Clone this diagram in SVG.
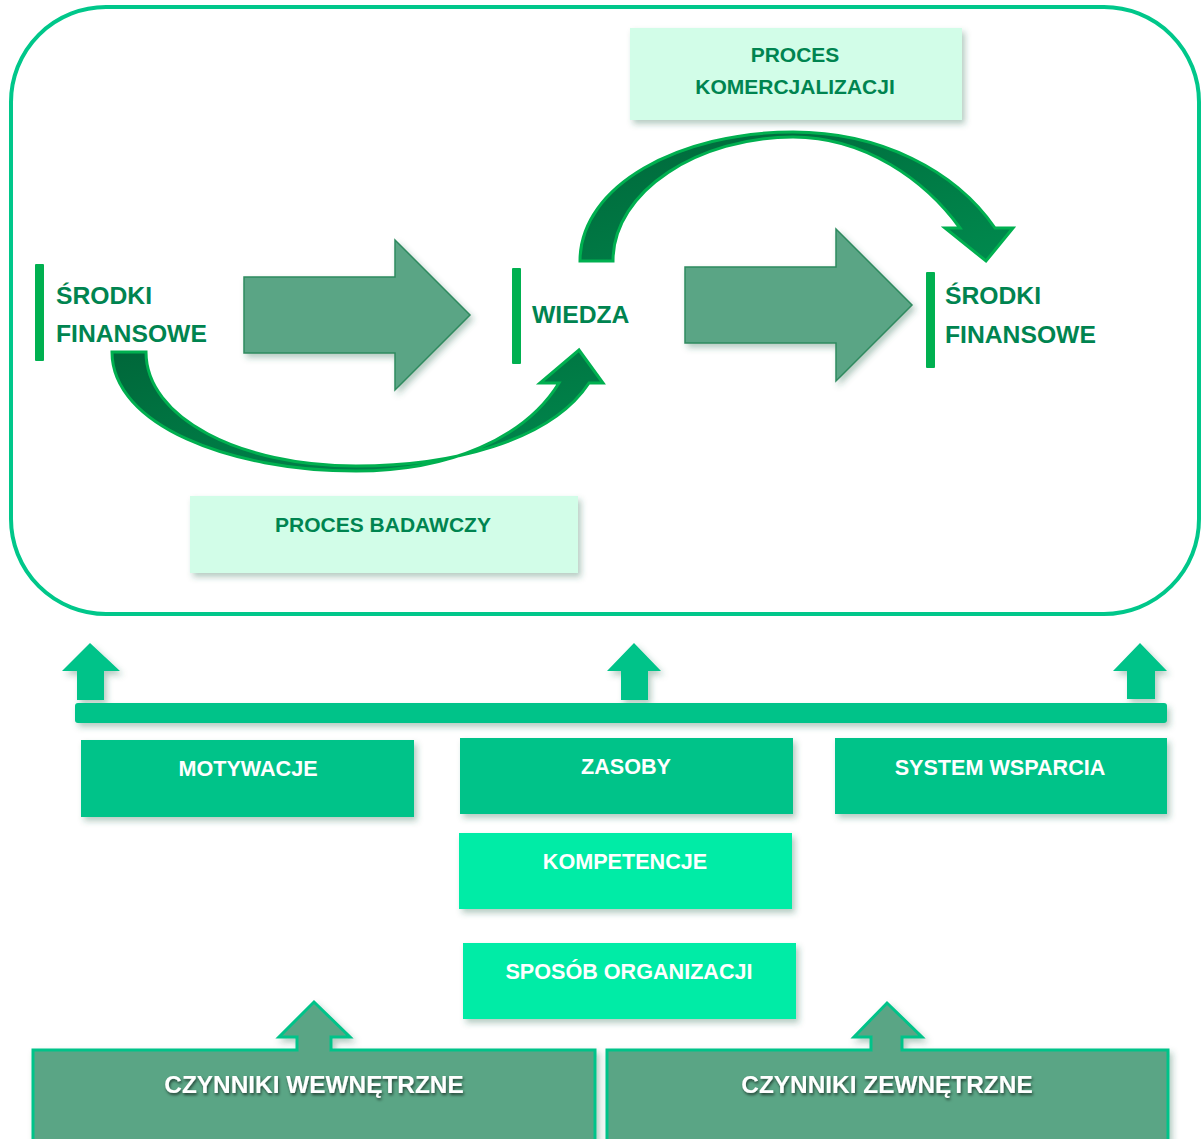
<svg xmlns="http://www.w3.org/2000/svg" width="1201" height="1139" viewBox="0 0 1201 1139">
<defs>
<style>
.lbl{font-family:"Liberation Sans",Arial,sans-serif;font-weight:bold;}
.dk{fill:#008450;font-size:24.7px;}
.pr{fill:#008450;font-size:21px;text-anchor:middle;}
.wt{fill:#ffffff;font-size:21.6px;text-anchor:middle;}
.wt2{fill:#ffffff;font-size:24.4px;text-anchor:middle;}
.bar{fill:#00b050;}
.light{fill:#d2fde8;}
.teal{fill:#00c389;}
.mint{fill:#00eca6;}
.big{fill:#5aa585;stroke:#2f8a5f;stroke-width:1.5;}
.curve{fill:url(#cg);stroke:#00b050;stroke-width:3;stroke-linejoin:miter;}
.base{fill:#5aa585;stroke:#00c389;stroke-width:3;}
</style>
<linearGradient id="cg" x1="0" y1="0" x2="1" y2="1">
<stop offset="0" stop-color="#00673a"/>
<stop offset="1" stop-color="#008a4e"/>
</linearGradient>
<filter id="sh" x="-10%" y="-10%" width="125%" height="130%">
<feDropShadow dx="3" dy="4" stdDeviation="3" flood-color="#2d6b4f" flood-opacity="0.35"/>
</filter>
<filter id="tsh" x="-10%" y="-30%" width="120%" height="170%">
<feDropShadow dx="1" dy="2" stdDeviation="1.5" flood-color="#000" flood-opacity="0.6"/>
</filter>
</defs>
<rect width="1201" height="1139" fill="#ffffff"/>

<rect id="frame" x="11" y="7" width="1188" height="607" rx="95" ry="95" fill="none" stroke="#00c78a" stroke-width="4"/>

<g id="connectors">
<path class="big" filter="url(#sh)" d="M244 277 L395 277 L395 240 L470 315 L395 390 L395 353 L244 353 Z"/>
<path class="big" filter="url(#sh)" d="M685 267 L836 267 L836 229 L912 305 L836 381 L836 343 L685 343 Z"/>
<path id="proces-badawczy-arrow" class="curve" d="M112 352 C112 425 230 471 356 471 C450 471 525 438 559 383 L540 383 L579 350 L603 383 L589 383 C550 442 450 466 356 466 C240 466 146 418 146 352 Z"/>
<path id="proces-komercjalizacji-arrow" class="curve" d="M580 261 C580 185 680 132 793 132 C880 132 955 170 995 228 L1013 228 L986 261 L945 228 L960 228 C925 180 865 137 793 137 C700 137 613 190 613 261 Z"/>
<g filter="url(#sh)">
<rect class="teal" x="75" y="703" width="1092" height="20" rx="3"/>
<path class="teal" d="M77 700 L77 671 L62 671 L90 643 L120 671 L104 671 L104 700 Z"/>
<path class="teal" d="M621 700 L621 671 L607 671 L634 643 L661 671 L648 671 L648 700 Z"/>
<path class="teal" d="M1127 699 L1127 671 L1113 671 L1140 643 L1167 671 L1155 671 L1155 699 Z"/>
</g>
</g>

<g id="proces-komercjalizacji">
<rect class="light" filter="url(#sh)" x="630" y="28" width="332" height="92"/>
<text class="lbl pr" x="795" y="62">PROCES</text>
<text class="lbl pr" x="795" y="94">KOMERCJALIZACJI</text>
</g>

<g id="srodki-finansowe-1">
<rect class="bar" x="35" y="264" width="9" height="97" rx="1"/>
<text class="lbl dk" x="56" y="304">ŚRODKI</text>
<text class="lbl dk" x="56" y="342">FINANSOWE</text>
</g>

<g id="wiedza">
<rect class="bar" x="512" y="268" width="9" height="96" rx="1"/>
<text class="lbl dk" x="532" y="323">WIEDZA</text>
</g>

<g id="srodki-finansowe-2">
<rect class="bar" x="926" y="272" width="9" height="96" rx="1"/>
<text class="lbl dk" x="945" y="304">ŚRODKI</text>
<text class="lbl dk" x="945" y="343">FINANSOWE</text>
</g>

<g id="proces-badawczy">
<rect class="light" filter="url(#sh)" x="190" y="496" width="388" height="77"/>
<text class="lbl pr" x="383" y="532">PROCES BADAWCZY</text>
</g>

<g id="motywacje">
<rect class="teal" filter="url(#sh)" x="81" y="740" width="333" height="77"/>
<text class="lbl wt" x="248" y="776">MOTYWACJE</text>
</g>
<g id="zasoby">
<rect class="teal" filter="url(#sh)" x="460" y="738" width="333" height="76"/>
<text class="lbl wt" x="626" y="774">ZASOBY</text>
</g>
<g id="system-wsparcia">
<rect class="teal" filter="url(#sh)" x="835" y="738" width="332" height="76"/>
<text class="lbl wt" x="1000" y="775">SYSTEM WSPARCIA</text>
</g>
<g id="kompetencje">
<rect class="mint" filter="url(#sh)" x="459" y="833" width="333" height="76"/>
<text class="lbl wt" x="625" y="869">KOMPETENCJE</text>
</g>
<g id="sposob-organizacji">
<rect class="mint" filter="url(#sh)" x="463" y="943" width="333" height="76"/>
<text class="lbl wt" x="629" y="979">SPOSÓB ORGANIZACJI</text>
</g>

<g id="czynniki-wewnetrzne">
<path class="base" filter="url(#sh)" d="M33 1150 L33 1050 L297 1050 L297 1037 L279 1037 L314 1002 L350 1037 L331 1037 L331 1050 L595 1050 L595 1150 Z"/>
<text class="lbl wt2" filter="url(#tsh)" x="314" y="1093">CZYNNIKI WEWNĘTRZNE</text>
</g>
<g id="czynniki-zewnetrzne">
<path class="base" filter="url(#sh)" d="M607 1150 L607 1050 L871 1050 L871 1037 L854 1037 L887 1003 L922 1037 L902 1037 L902 1050 L1168 1050 L1168 1150 Z"/>
<text class="lbl wt2" filter="url(#tsh)" x="887" y="1093">CZYNNIKI ZEWNĘTRZNE</text>
</g>
</svg>
